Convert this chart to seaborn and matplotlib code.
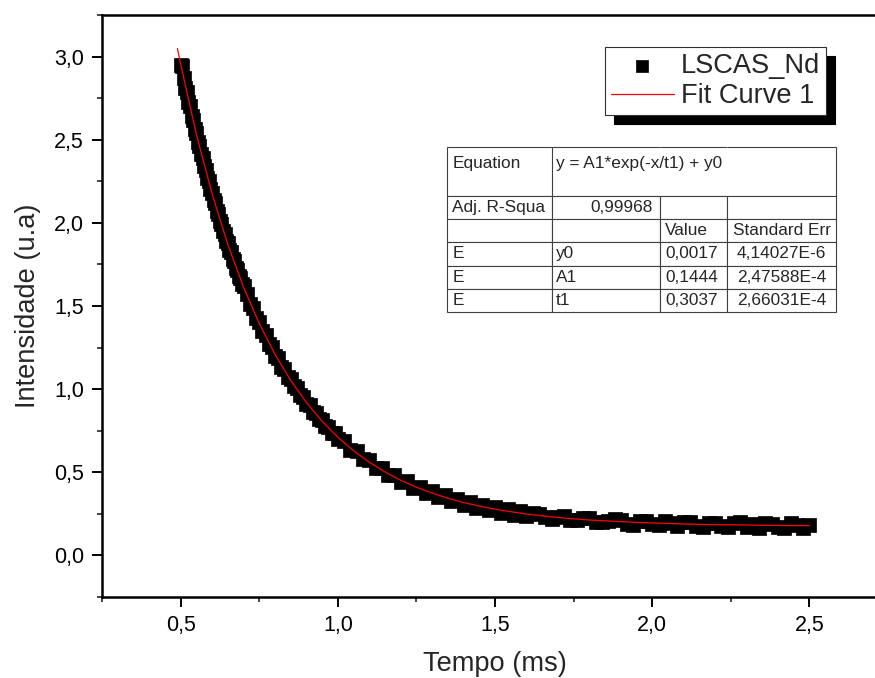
import matplotlib
matplotlib.use('Agg')
import pandas as pd
import matplotlib.pyplot as plt
from matplotlib.ticker import MultipleLocator, FuncFormatter
from matplotlib.table import Table
import seaborn as sns

# LSCAS_Nd decay (denser sampling on the steep part)
tempo_a = [0.500, 0.505, 0.510, 0.515, 0.520, 0.525, 0.530, 0.535, 0.540, 0.545,
           0.550, 0.555, 0.560, 0.565, 0.570, 0.575, 0.580, 0.585, 0.590, 0.595,
           0.600, 0.605, 0.610, 0.615, 0.620, 0.625, 0.630, 0.635, 0.640, 0.645,
           0.650, 0.655, 0.660, 0.665, 0.670, 0.675, 0.680, 0.685, 0.690, 0.695,
           0.700]
inten_a = [2.950, 2.946, 2.872, 2.812, 2.785, 2.728, 2.701, 2.645, 2.618, 2.566,
           2.540, 2.487, 2.463, 2.412, 2.390, 2.340, 2.318, 2.270, 2.249, 2.201,
           2.182, 2.136, 2.117, 2.072, 2.054, 2.010, 1.994, 1.950, 1.935, 1.893,
           1.878, 1.838, 1.823, 1.783, 1.770, 1.731, 1.719, 1.680, 1.669, 1.631,
           1.621]
tempo_b = [0.71, 0.72, 0.73, 0.74, 0.75, 0.76, 0.77, 0.78, 0.79, 0.80,
           0.81, 0.82, 0.83, 0.84, 0.85, 0.86, 0.87, 0.88, 0.89, 0.90,
           0.91, 0.92, 0.93, 0.94, 0.95, 0.96, 0.97, 0.98, 0.99, 1.00]
inten_b = [1.575, 1.514, 1.488, 1.428, 1.404, 1.348, 1.327, 1.273, 1.254, 1.202,
           1.186, 1.136, 1.122, 1.075, 1.062, 1.017, 1.006, 0.962, 0.954, 0.912,
           0.905, 0.864, 0.859, 0.820, 0.816, 0.778, 0.775, 0.739, 0.738, 0.703]
tempo_c = [1.02, 1.04, 1.06, 1.08, 1.10, 1.12, 1.14, 1.16, 1.18, 1.20,
           1.22, 1.24, 1.26, 1.28, 1.30, 1.32, 1.34, 1.36, 1.38, 1.40,
           1.42, 1.44, 1.46, 1.48, 1.50, 1.52, 1.54, 1.56, 1.58, 1.60,
           1.62, 1.64, 1.66, 1.68, 1.70, 1.72, 1.74, 1.76, 1.78, 1.80,
           1.82, 1.84, 1.86, 1.88, 1.90, 1.92, 1.94, 1.96, 1.98, 2.00,
           2.02, 2.04, 2.06, 2.08, 2.10, 2.12, 2.14, 2.16, 2.18, 2.20,
           2.22, 2.24, 2.26, 2.28, 2.30, 2.32, 2.34, 2.36, 2.38, 2.40,
           2.42, 2.44, 2.46, 2.48, 2.50]
inten_c = [0.686, 0.636, 0.625, 0.578, 0.571, 0.526, 0.523, 0.482, 0.481, 0.442,
           0.446, 0.407, 0.414, 0.377, 0.387, 0.350, 0.362, 0.327, 0.341, 0.305,
           0.322, 0.288, 0.306, 0.272, 0.292, 0.258, 0.280, 0.246, 0.269, 0.234,
           0.256, 0.250, 0.228, 0.218, 0.232, 0.238, 0.210, 0.213, 0.227, 0.222,
           0.198, 0.199, 0.208, 0.218, 0.215, 0.190, 0.184, 0.204, 0.206, 0.186,
           0.180, 0.205, 0.194, 0.178, 0.200, 0.202, 0.178, 0.171, 0.194, 0.197,
           0.179, 0.170, 0.193, 0.198, 0.170, 0.186, 0.167, 0.193, 0.190, 0.169,
           0.166, 0.193, 0.185, 0.166, 0.184]

# Fit Curve 1
fit_tempo = [0.49, 0.50, 0.55, 0.60, 0.65, 0.70, 0.75, 0.80, 0.85, 0.90, 0.95,
             1.00, 1.05, 1.10, 1.15, 1.20, 1.25, 1.30, 1.35, 1.40, 1.45,
             1.50, 1.55, 1.60, 1.65, 1.70, 1.75, 1.80, 1.85, 1.90, 1.95,
             2.00, 2.05, 2.10, 2.15, 2.20, 2.25, 2.30, 2.35, 2.40, 2.45, 2.50]
fit_inten = [3.048, 2.955, 2.533, 2.175, 1.871, 1.614, 1.395, 1.210, 1.053, 0.920, 0.807,
             0.711, 0.630, 0.561, 0.502, 0.452, 0.410, 0.375, 0.344, 0.318, 0.297,
             0.278, 0.263, 0.249, 0.238, 0.228, 0.220, 0.213, 0.208, 0.203, 0.199,
             0.195, 0.192, 0.189, 0.187, 0.185, 0.184, 0.183, 0.181, 0.180, 0.179, 0.179]

# fit result table
table_rows = [
    ['Equation', 'y = A1*exp(-x/t1) + y0', '', ''],
    ['Adj. R-Squa', '0,99968', '', ''],
    ['', '', 'Value', 'Standard Err'],
    ['E', 'y0', '0,0017', '4,14027E-6'],
    ['E', 'A1', '0,1444', '2,47588E-4'],
    ['E', 't1', '0,3037', '2,66031E-4'],
]

data = pd.DataFrame({'tempo': tempo_a + tempo_b + tempo_c,
                     'intensidade': inten_a + inten_b + inten_c})
fit = pd.DataFrame({'tempo': fit_tempo, 'intensidade': fit_inten})

sns.set_style('ticks')
plt.rcParams['font.family'] = ['Liberation Sans', 'DejaVu Sans']

fig = plt.figure(figsize=(8.75, 6.78), dpi=100)
ax = fig.add_axes([0.1166, 0.1195, 0.8983, 0.8584])

sns.scatterplot(data=data, x='tempo', y='intensidade', marker='s', s=100,
                color='black', edgecolor='black', linewidth=0.5,
                label='LSCAS_Nd', ax=ax, zorder=2)
sns.lineplot(data=fit, x='tempo', y='intensidade', color='#ff0000',
             linewidth=0.9, label='Fit Curve 1', ax=ax, zorder=3)

ax.set_xlim(0.25, 2.75)
ax.set_ylim(-0.25, 3.25)
ax.xaxis.set_major_locator(MultipleLocator(0.5))
ax.xaxis.set_minor_locator(MultipleLocator(0.25))
ax.yaxis.set_major_locator(MultipleLocator(0.5))
ax.yaxis.set_minor_locator(MultipleLocator(0.25))
comma = FuncFormatter(lambda v, p: f'{v:.1f}'.replace('.', ','))
ax.xaxis.set_major_formatter(comma)
ax.yaxis.set_major_formatter(comma)

ax.tick_params(which='major', direction='out', length=7, width=1.4,
               labelsize=15.5, pad=6, colors='black')
ax.tick_params(which='minor', direction='out', length=3.8, width=1.2)
for sp in ax.spines.values():
    sp.set_visible(True)
    sp.set_linewidth(1.8)
    sp.set_color('black')

ax.set_xlabel('Tempo (ms)', fontsize=19.6, labelpad=11)
ax.set_ylabel('Intensidade (u.a)', fontsize=19.6, labelpad=9)

leg = ax.legend(loc='upper left', bbox_to_anchor=(605 / 875, 1 - 47 / 678),
                bbox_transform=fig.transFigure, fontsize=19.6, frameon=True,
                fancybox=False, framealpha=1, edgecolor='#303030',
                borderpad=0.22, labelspacing=0.15, handlelength=2.3,
                handletextpad=0.28, borderaxespad=0, markerscale=0.9,
                shadow={'ox': 6.5, 'oy': -6.5, 'color': 'black', 'alpha': 1.0})
leg.get_frame().set_linewidth(0.8)

# table drawn with matplotlib's Table, cells sized in pixels then scaled to bbox
col_w = [105, 108, 67, 109]
row_h = [49, 23.3, 23.3, 23.3, 23.3, 23.3]
tab = Table(ax, bbox=[0.4389, 0.4897, 0.4949, 0.2835])
for r, row in enumerate(table_rows):
    for c, txt in enumerate(row):
        if c == 3:
            loc = 'center'
        elif r == 1 and c == 1:
            loc = 'right'
        else:
            loc = 'left'
        cell = tab.add_cell(r, c, width=col_w[c], height=row_h[r], text=txt,
                            loc=loc, facecolor='white', edgecolor='#404040')
        cell.set_linewidth(0.8)
        cell.PAD = [0.05, 0.035, 0.075, 0.05][c]
        if r == 1 and c == 1:
            cell.PAD = 0.065
        if r == 0:
            cell.get_text().set_va('bottom')
            cell.visible_edges = ['BTL', 'BTL', 'BT', 'BTR'][c]
tab.auto_set_font_size(False)
tab.set_fontsize(12.4)
ax.add_table(tab)

fig.savefig('out.png', dpi=100)
